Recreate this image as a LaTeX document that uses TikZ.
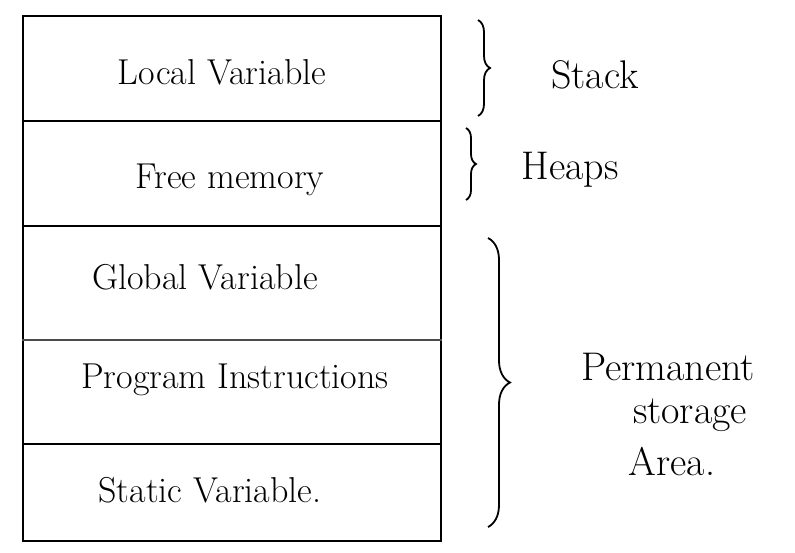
\documentclass[tikz,border=0pt]{standalone}
\usetikzlibrary{decorations.pathreplacing}
\begin{document}
\begin{tikzpicture}[x=1pt,y=-1pt,
  row/.style={draw,line width=1.6pt,minimum width=418pt,anchor=north west,inner sep=0pt},
  txt/.style={font=\fontsize{36}{38}\selectfont},
  lab/.style={font=\fontsize{40}{42}\selectfont},
  brc/.style={draw,line width=1.8pt,decorate,decoration={brace,amplitude=#1}}]
\useasboundingbox (0,0) rectangle (795,552);
\node[row,minimum height=105pt] (r1) at (22,15) {};
\node[row,minimum height=105pt] (r2) at (22,120) {};
\node[row,minimum height=218pt] (r3) at (22,225) {};
\node[row,minimum height=97pt] (r5) at (22,443) {};
\draw[line width=1.2pt,black!70] (r3.west |- 0,340) -- (r3.east |- 0,340);
\node[txt] (t1) at (222,72) {Local Variable};
\node[txt] (t2) at (230,180) {Free memory};
\node[txt] (t3) at (205,277) {Global Variable};
\node[txt] (t4) at (235,380) {Program Instructions};
\node[txt] (t5) at (210,490) {Static Variable.};
\path[brc=12pt] (478,20) -- (478,116);
\path[brc=10pt] (466,128) -- (466,200);
\path[brc=22pt] (488,238) -- (488,527);
\node[lab] (l1) at (595,75) {Stack};
\node[lab] (l2) at (570,170) {Heaps};
\node[lab] (l3) at (668,367) {Permanent};
\node[lab] (l4) at (690,415) {storage};
\node[lab] (l5) at (672,462) {Area.};
\end{tikzpicture}
\end{document}
